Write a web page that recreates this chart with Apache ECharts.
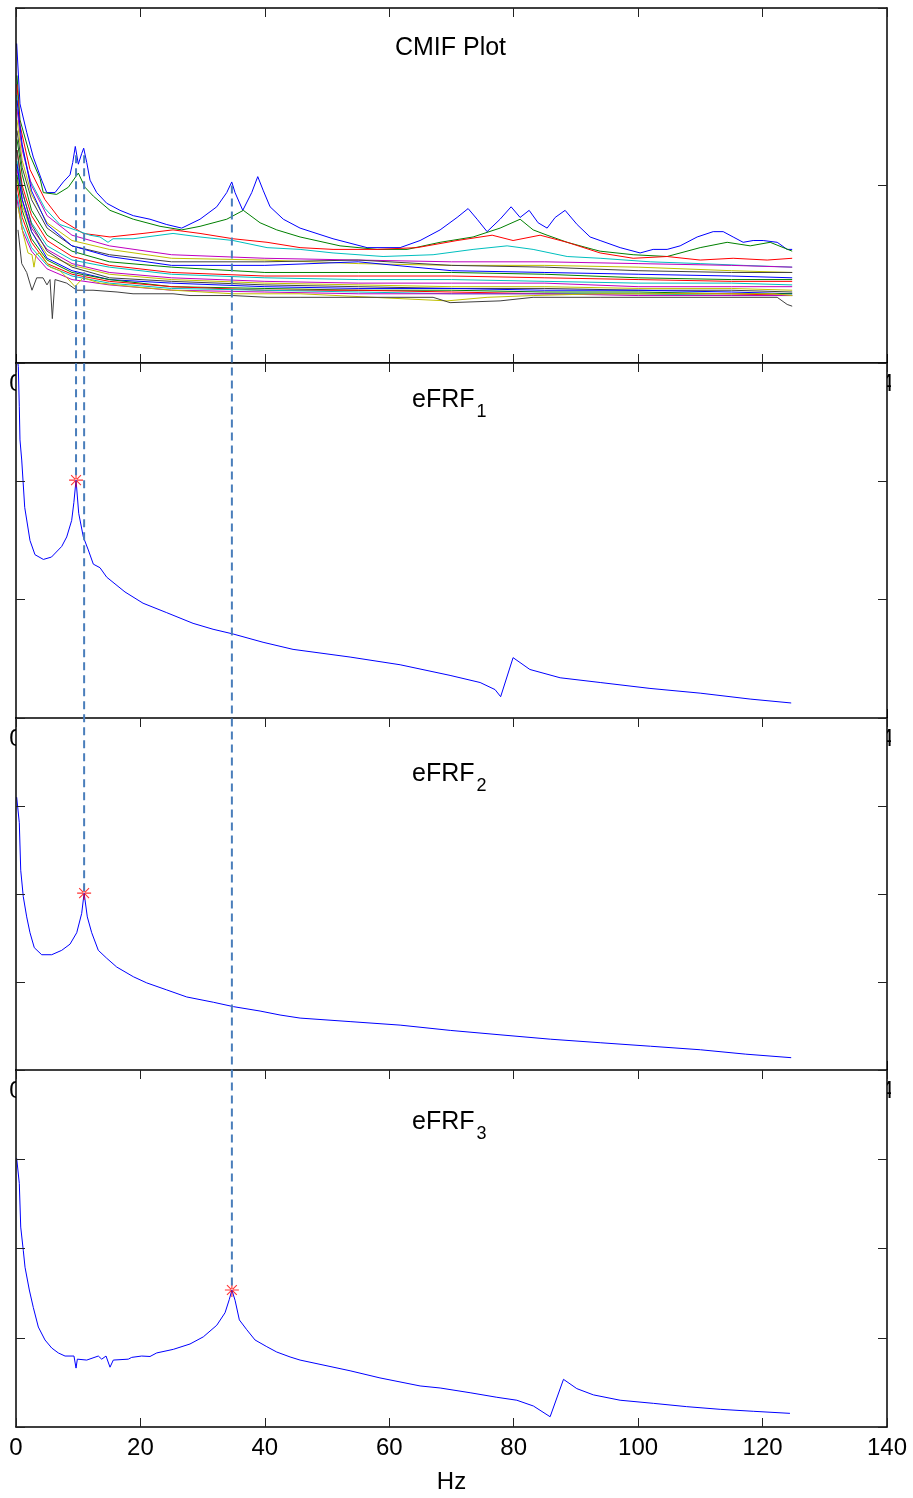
<!DOCTYPE html>
<html>
<head>
<meta charset="utf-8">
<script src="https://cdn.jsdelivr.net/npm/echarts@6/dist/echarts.min.js"></script>
<style>
  html, body { margin: 0; padding: 0; background: #ffffff; }
  #chart { width: 913px; height: 1498px; }
</style>
</head>
<body>
<div id="chart"></div>
<script>
// ---- frequency axis ----
const hzMin = 0, hzMax = 140, hzStep = 20;

// ---- panel titles ----
const cmifTitle = 'CMIF Plot';
const frfTitles = ['eFRF', 'eFRF', 'eFRF'];
const frfSubscripts = ['1', '2', '3'];
const xName = 'Hz';

// ---- log-magnitude ranges of the four panels ----
const yRanges = [[0, 2], [0, 3], [0, 4], [0, 4]];

// ---- CMIF singular value curves: [Hz, log magnitude] ----
const cmifBlue = [[0.11,1.80],[0.64,1.46],[1.72,1.30],[2.78,1.16],[4.13,1.03],[4.94,0.96],[6.27,0.96],[7.60,1.02],[8.68,1.06],[9.12,1.13],[9.53,1.22],[10.02,1.12],[10.56,1.18],[10.88,1.21],[11.37,1.13],[11.90,1.03],[12.97,0.96],[14.58,0.90],[16.72,0.86],[18.86,0.83],[21.54,0.81],[24.23,0.78],[26.64,0.76],[29.58,0.81],[32.27,0.88],[33.87,0.96],[34.68,1.02],[35.21,0.96],[36.45,0.86],[37.89,0.96],[38.86,1.05],[39.76,0.97],[40.84,0.88],[42.97,0.81],[45.66,0.76],[50.96,0.70],[56.43,0.65],[61.74,0.65],[64.95,0.69],[68.17,0.75],[70.90,0.82],[72.67,0.87],[74.12,0.81],[75.72,0.74],[77.81,0.81],[79.58,0.88],[81.03,0.82],[82.48,0.86],[83.92,0.79],[85.37,0.76],[86.66,0.82],[88.26,0.86],[90.19,0.78],[92.28,0.71],[93.89,0.69],[97.11,0.65],[100.32,0.62],[102.41,0.64],[104.66,0.64],[106.75,0.66],[109.49,0.71],[112.06,0.74],[113.67,0.74],[115.27,0.71],[116.88,0.68],[118.49,0.69],[120.10,0.69],[122.35,0.68],[123.95,0.64],[124.76,0.64]];
const cmifGreen = [[0.16,1.62],[0.64,1.37],[2.25,1.17],[3.86,1.04],[4.39,0.96],[6.54,0.95],[8.41,0.99],[10.02,1.07],[11.09,0.99],[12.43,0.94],[15.11,0.86],[18.86,0.81],[23.15,0.77],[26.64,0.75],[29.58,0.77],[33.87,0.81],[36.54,0.86],[39.23,0.79],[41.91,0.75],[45.66,0.71],[52.09,0.66],[58.04,0.64],[62.86,0.64],[68.17,0.68],[73.47,0.71],[77.81,0.76],[81.03,0.81],[83.12,0.75],[85.37,0.72],[88.59,0.68],[92.77,0.64],[93.89,0.63],[99.20,0.61],[104.66,0.60],[109.97,0.65],[114.31,0.68],[118.01,0.66],[121.22,0.68],[124.76,0.63]];
const cmifRed = [[0.16,1.57],[0.64,1.34],[2.25,1.09],[4.66,0.92],[7.07,0.81],[10.82,0.73],[15.11,0.71],[20.42,0.73],[25.24,0.75],[29.58,0.73],[34.89,0.70],[40.35,0.68],[45.66,0.65],[50.96,0.64],[58.04,0.64],[64.47,0.65],[70.90,0.69],[76.53,0.72],[79.90,0.69],[84.24,0.72],[88.59,0.68],[93.89,0.62],[99.20,0.59],[104.66,0.60],[109.97,0.58],[115.27,0.59],[120.74,0.58],[124.76,0.59]];
const cmifCyan = [[0.16,1.51],[0.64,1.28],[2.25,1.03],[4.66,0.87],[7.07,0.78],[11.90,0.72],[13.50,0.71],[14.79,0.68],[15.60,0.70],[18.81,0.70],[25.24,0.73],[29.58,0.71],[34.89,0.69],[40.35,0.65],[45.66,0.64],[50.96,0.62],[59.00,0.60],[67.04,0.61],[73.47,0.64],[78.94,0.66],[83.12,0.64],[88.59,0.60],[93.89,0.59],[101.93,0.57],[109.97,0.56],[116.88,0.55],[124.76,0.54]];

// lower singular values share one frequency grid
const bundleHz = [0.16, 1, 2.5, 5, 9, 15, 25, 40, 55, 70, 85, 100, 115, 124.76];
const cmif05 = [1.43,1.20,1.00,0.83,0.72,0.66,0.61,0.59,0.58,0.57,0.57,0.56,0.55,0.54];
const cmif06 = [1.37,1.14,0.95,0.79,0.69,0.64,0.59,0.58,0.56,0.55,0.55,0.54,0.52,0.51];
const cmif07 = [1.31,1.10,0.92,0.76,0.66,0.61,0.57,0.57,0.58,0.55,0.54,0.52,0.51,0.51];
const cmif08 = [1.48,1.23,0.97,0.78,0.66,0.60,0.55,0.55,0.57,0.52,0.51,0.50,0.49,0.48];
const cmif09 = [1.26,1.06,0.86,0.72,0.63,0.57,0.54,0.51,0.51,0.51,0.50,0.48,0.47,0.47];
const cmif10 = [1.20,1.00,0.83,0.69,0.60,0.55,0.51,0.49,0.49,0.49,0.48,0.47,0.46,0.46];
const cmif11 = [1.14,0.96,0.79,0.66,0.58,0.54,0.50,0.48,0.47,0.47,0.46,0.45,0.45,0.44];
const cmif12 = [1.09,0.92,0.76,0.64,0.56,0.51,0.48,0.46,0.45,0.45,0.45,0.43,0.43,0.43];
const cmif13 = [1.03,0.89,0.74,0.61,0.55,0.50,0.47,0.45,0.44,0.43,0.43,0.42,0.42,0.41];
const cmif14 = [1.20,0.97,0.78,0.63,0.54,0.48,0.46,0.44,0.43,0.42,0.42,0.41,0.41,0.40];
const cmif15 = [1.12,0.92,0.74,0.59,0.52,0.47,0.45,0.43,0.42,0.42,0.41,0.41,0.40,0.39];
const cmif16 = [1.06,0.86,0.70,0.58,0.51,0.47,0.43,0.42,0.41,0.41,0.40,0.40,0.39,0.39];
const cmif17 = [1.00,0.82,0.68,0.56,0.50,0.46,0.43,0.41,0.41,0.40,0.39,0.39,0.39,0.38];
const cmif18 = [0.95,0.78,0.65,0.55,0.49,0.45,0.42,0.41,0.40,0.39,0.39,0.39,0.38,0.38];
const cmif19 = [0.92,0.75,0.63,0.53,0.47,0.44,0.41,0.40,0.39,0.39,0.39,0.38,0.38,0.38];

// the two noisiest (smallest) singular values
const cmifOlive = [[0.32,0.88],[1.13,0.73],[1.93,0.62],[2.57,0.61],[2.89,0.54],[3.22,0.61],[3.86,0.62],[5.47,0.54],[7.07,0.52],[8.20,0.48],[9.49,0.43],[10.77,0.48],[13.50,0.45],[18.81,0.43],[25.24,0.41],[34.89,0.39],[45.66,0.39],[69.29,0.35],[75.72,0.37],[83.12,0.38],[93.89,0.39],[109.49,0.39],[121.70,0.39],[124.76,0.38]];
const cmifGray = [[0.32,0.75],[0.92,0.56],[1.72,0.51],[2.57,0.41],[3.33,0.48],[4.34,0.48],[4.98,0.44],[5.47,0.47],[5.84,0.25],[6.27,0.47],[8.15,0.45],[9.76,0.41],[12.38,0.41],[16.24,0.40],[18.81,0.39],[25.24,0.39],[27.97,0.38],[34.89,0.38],[40.35,0.37],[45.66,0.37],[67.04,0.37],[69.77,0.34],[77.81,0.35],[83.12,0.37],[93.89,0.37],[122.35,0.37],[123.95,0.33],[124.76,0.32]];

// ---- enhanced FRFs: [Hz, log magnitude] ----
const eFRF1 = [[0.10,3.10],[0.37,2.97],[0.53,2.63],[0.64,2.35],[0.92,2.18],[1.40,1.78],[2.25,1.50],[3.05,1.38],[4.40,1.34],[5.70,1.36],[7.35,1.45],[8.15,1.53],[8.95,1.67],[9.30,1.82],[9.65,2.01],[10.08,1.73],[10.82,1.53],[11.62,1.42],[12.43,1.30],[13.50,1.27],[14.58,1.19],[17.52,1.065],[20.42,0.97],[24.23,0.89],[28.46,0.80],[31.67,0.75],[34.89,0.71],[39.71,0.64],[44.53,0.58],[53.70,0.515],[61.74,0.45],[69.77,0.36],[74.60,0.30],[77.00,0.24],[77.90,0.18],[79.90,0.51],[82.60,0.41],[87.46,0.34],[93.90,0.30],[101.90,0.25],[109.97,0.21],[118.00,0.16],[124.60,0.127]];
const eFRF2 = [[0.11,3.10],[0.53,2.81],[0.76,2.27],[1.17,1.97],[1.72,1.74],[2.25,1.56],[2.94,1.39],[4.13,1.31],[5.74,1.31],[7.35,1.36],[8.68,1.43],[9.76,1.56],[10.56,1.78],[10.95,2.01],[11.46,1.74],[12.17,1.56],[13.23,1.36],[14.58,1.27],[16.19,1.17],[18.86,1.06],[21.01,0.99],[24.23,0.91],[27.44,0.83],[31.72,0.77],[34.94,0.72],[39.23,0.67],[42.44,0.625],[45.66,0.59],[53.70,0.55],[61.74,0.51],[69.80,0.45],[77.80,0.40],[85.90,0.35],[93.90,0.31],[102.00,0.27],[110.00,0.23],[117.30,0.18],[124.60,0.14]];
const eFRF3 = [[0.11,3.01],[0.53,2.73],[0.76,2.24],[1.17,1.98],[1.45,1.79],[2.14,1.535],[2.78,1.34],[3.59,1.12],[4.66,0.975],[5.74,0.885],[6.80,0.83],[7.88,0.795],[9.32,0.795],[9.65,0.66],[9.86,0.76],[11.37,0.75],[13.23,0.795],[13.78,0.76],[14.47,0.795],[15.11,0.67],[15.64,0.75],[18.05,0.76],[18.60,0.78],[20.20,0.795],[21.54,0.79],[22.62,0.83],[25.29,0.87],[27.97,0.93],[30.11,1.01],[32.27,1.14],[33.60,1.28],[34.29,1.43],[34.70,1.535],[35.21,1.42],[35.90,1.20],[37.09,1.09],[38.42,0.975],[40.31,0.90],[41.91,0.84],[44.05,0.785],[45.66,0.75],[53.70,0.63],[58.50,0.55],[64.95,0.46],[68.17,0.437],[72.99,0.384],[77.28,0.333],[80.50,0.30],[83.17,0.235],[85.85,0.115],[88.00,0.534],[90.14,0.43],[92.80,0.36],[97.10,0.30],[102.46,0.265],[107.80,0.228],[113.20,0.198],[118.50,0.176],[124.40,0.153]];

// ---- identified modes: frequency and CMIF level where the guide line starts ----
const modeHz = [9.65, 10.95, 34.70];
const modeCmif = [1.17, 1.17, 1.00];

// ---- styling ----
const matlabColors = ['#0000ff', '#008000', '#ff0000', '#00bfbf', '#bf00bf', '#bfbf00', '#404040'];
const FONT = "'Liberation Sans', Arial, sans-serif";
const panelTop = [8, 363, 718, 1070];
const panelHeight = [355, 355, 352, 357];
const plotLeft = 16, plotRight = 26;
const W = 913;

const frfSets = [eFRF1, eFRF2, eFRF3];
const bundle = [cmif05, cmif06, cmif07, cmif08, cmif09, cmif10, cmif11, cmif12, cmif13, cmif14, cmif15, cmif16, cmif17, cmif18, cmif19];

const grids = panelTop.map((t, i) => ({
  left: plotLeft, right: plotRight, top: t, height: panelHeight[i],
  containLabel: false, outerBoundsMode: 'none', show: false
}));

const tickStyle = { show: true, inside: true, length: 9, lineStyle: { color: '#222', width: 1 } };
const lineStyleAxis = { show: true, onZero: false, lineStyle: { color: '#000', width: 1.5 } };

const xAxes = [], yAxes = [];
panelTop.forEach((t, i) => {
  const isLast = i === panelTop.length - 1;
  xAxes.push({
    gridIndex: i, type: 'value', position: 'bottom', min: hzMin, max: hzMax, interval: hzStep,
    axisLine: lineStyleAxis, axisTick: tickStyle, splitLine: { show: false },
    axisLabel: { show: true, color: '#000', fontSize: 24, fontFamily: FONT, margin: 9, showMinLabel: true, showMaxLabel: true },
    name: isLast ? xName : '', nameLocation: 'middle', nameGap: 43,
    nameTextStyle: { color: '#000', fontSize: 24, fontFamily: FONT },
    z: isLast ? 3 : 0
  });
  xAxes.push({
    gridIndex: i, type: 'value', position: 'top', min: hzMin, max: hzMax, interval: hzStep,
    axisLine: lineStyleAxis, axisTick: tickStyle, splitLine: { show: false },
    axisLabel: { show: false }, z: 3
  });
  ['left', 'right'].forEach(pos => {
    yAxes.push({
      gridIndex: i, type: 'value', position: pos, min: yRanges[i][0], max: yRanges[i][1], interval: 1,
      axisLine: lineStyleAxis, axisTick: tickStyle, splitLine: { show: false },
      axisLabel: { show: false }, z: 3
    });
  });
});

const series = [];
const addLine = (data, color, gi) => series.push({
  type: 'line', data, xAxisIndex: 2 * gi, yAxisIndex: 2 * gi,
  showSymbol: false, symbol: 'none', clip: true, silent: true, animation: false,
  lineStyle: { color, width: 1 }, z: 2
});

// CMIF panel
[cmifBlue, cmifGreen, cmifRed, cmifCyan].forEach((d, k) => addLine(d, matlabColors[k], 0));
bundle.forEach((vals, k) => addLine(bundleHz.map((h, j) => [h, vals[j]]), matlabColors[(4 + k) % 7], 0));
addLine(cmifOlive, matlabColors[5], 0);
addLine(cmifGray, matlabColors[6], 0);

// eFRF panels with peak markers
const asterisk = 'path://M-10,-0.8L10,-0.8L10,0.8L-10,0.8Z M-0.8,-10L0.8,-10L0.8,10L-0.8,10Z M-7.6,-6.5L6.5,7.6L7.6,6.5L-6.5,-7.6Z M-6.5,7.6L7.6,-6.5L6.5,-7.6L-7.6,6.5Z';
const peaks = frfSets.map((d, k) => d.find(p => p[0] === modeHz[k]));
frfSets.forEach((d, k) => {
  addLine(d, '#0000ff', k + 1);
  series.push({
    type: 'scatter', data: [peaks[k]], xAxisIndex: 2 * (k + 1), yAxisIndex: 2 * (k + 1),
    symbol: asterisk, symbolSize: 14, itemStyle: { color: '#ff0000' }, silent: true, animation: false, z: 4
  });
});

const chart = echarts.init(document.getElementById('chart'), null, { renderer: 'canvas' });
chart.setOption({
  backgroundColor: '#ffffff',
  animation: false,
  grid: grids,
  xAxis: xAxes,
  yAxis: yAxes,
  series
});

// white panel backgrounds hide the tick labels of the panel above
const covers = [];
for (let i = 1; i < panelTop.length; i++) {
  covers.push({ type: 'rect', z: 1, silent: true,
    shape: { x: plotLeft, y: panelTop[i], width: W - plotLeft - plotRight, height: panelHeight[i] },
    style: { fill: '#ffffff' } });
}
covers.push({ type: 'rect', z: 1, silent: true,
  shape: { x: W - plotRight + 4, y: panelTop[1], width: plotRight, height: panelTop[3] + panelHeight[3] - panelTop[1] },
  style: { fill: '#ffffff' } });

// dashed guides from each CMIF peak down to its eFRF peak
const guides = modeHz.map((hz, k) => {
  const a = chart.convertToPixel({ xAxisIndex: 0, yAxisIndex: 0 }, [hz, modeCmif[k]]);
  const b = chart.convertToPixel({ xAxisIndex: 2 * (k + 1), yAxisIndex: 2 * (k + 1) }, peaks[k]);
  return { type: 'line', z: 10, silent: true,
    shape: { x1: a[0], y1: a[1], x2: b[0], y2: b[1] },
    style: { stroke: '#4a7ebb', lineWidth: 2, lineDash: [8, 5] } };
});

// panel titles
const cx = (plotLeft + (W - plotRight)) / 2;
const titles = [{ type: 'text', z: 5, silent: true, x: cx - 1, y: 48,
  style: { text: cmifTitle, font: `25px ${FONT}`, fill: '#000', align: 'center', verticalAlign: 'middle' } }];
const titleY = [400, 774, 1122];
frfTitles.forEach((t, k) => {
  titles.push({ type: 'text', z: 5, silent: true, x: cx + 23, y: titleY[k],
    style: { text: t, font: `25px ${FONT}`, fill: '#000', align: 'right', verticalAlign: 'middle' } });
  titles.push({ type: 'text', z: 5, silent: true, x: cx + 25, y: titleY[k] + 12,
    style: { text: frfSubscripts[k], font: `18px ${FONT}`, fill: '#000', align: 'left', verticalAlign: 'middle' } });
});

chart.setOption({ graphic: { elements: [...covers, ...guides, ...titles] } });
</script>
</body>
</html>
